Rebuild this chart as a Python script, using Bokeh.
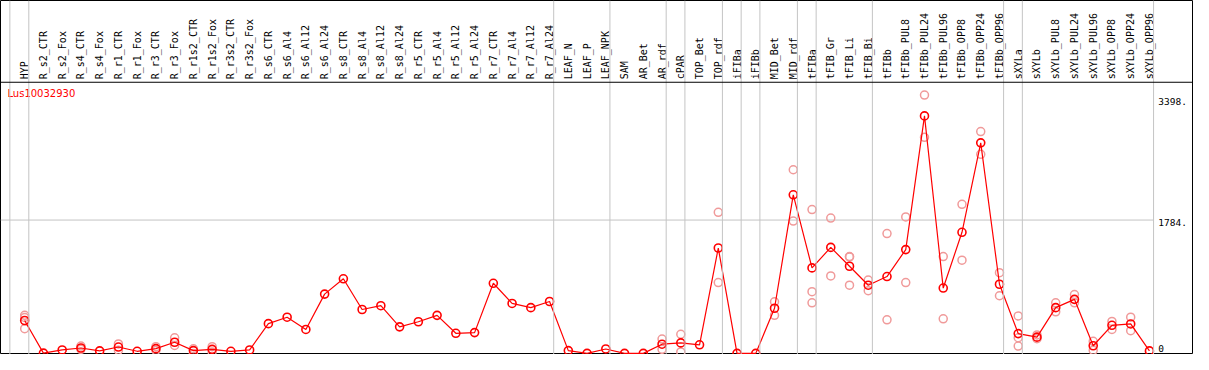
from math import pi
from bokeh.plotting import figure
from bokeh.models import Range1d, Span
from bokeh.core.properties import value
from bokeh.embed import file_html
from bokeh.resources import INLINE

series_name = "Lus10032930"

categories = [
    "HYP", "R_s2_CTR", "R_s2_Fox", "R_s4_CTR", "R_s4_Fox", "R_r1_CTR", "R_r1_Fox",
    "R_r3_CTR", "R_r3_Fox", "R_r1s2_CTR", "R_r1s2_Fox", "R_r3s2_CTR", "R_r3s2_Fox",
    "R_s6_CTR", "R_s6_Al4", "R_s6_Al12", "R_s6_Al24", "R_s8_CTR", "R_s8_Al4",
    "R_s8_Al12", "R_s8_Al24", "R_r5_CTR", "R_r5_Al4", "R_r5_Al12", "R_r5_Al24",
    "R_r7_CTR", "R_r7_Al4", "R_r7_Al12", "R_r7_Al24", "LEAF_N", "LEAF_P", "LEAF_NPK",
    "SAM", "AR_Bet", "AR_rdf", "cPAR", "TOP_Bet", "TOP_rdf", "iFIBa", "iFIBb",
    "MID_Bet", "MID_rdf", "tFIBa", "tFIB_Gr", "tFIB_Li", "tFIB_Bi", "tFIBb",
    "tFIBb_PUL8", "tFIBb_PUL24", "tFIBb_PUL96", "tFIBb_OPP8", "tFIBb_OPP24",
    "tFIBb_OPP96", "sXYLa", "sXYLb", "sXYLb_PUL8", "sXYLb_PUL24", "sXYLb_PUL96",
    "sXYLb_OPP8", "sXYLb_OPP24", "sXYLb_OPP96",
]

means = [
    440, 3, 46, 72, 33, 85, 28, 63, 149, 37, 54, 28, 46,
    398, 484, 320, 793, 998, 587, 638, 355, 423, 509, 269, 278,
    938, 668, 612, 694, 37, 0, 59, 0, 0, 123, 140, 115, 1410, 0, 0,
    604, 2122, 1144, 1418, 1166, 912, 1028, 1389, 3178, 874, 1620, 2817,
    925, 265, 217, 612, 723, 102, 376, 394, 33,
]

replicates = [
    [510, 480, 330], [], [], [98, 55], [], [127, 41], [], [89, 37], [209, 106],
    [62, 0], [89, 20], [], [], [], [], [], [], [], [], [], [], [], [], [], [],
    [], [], [], [], [], [], [], [], [], [192, 54], [256, 20], [], [1887, 947],
    [], [], [690, 510], [2457, 1771], [1925, 826, 677], [1810, 1037],
    [1295, 912, 1290], [981, 839], [1603, 449], [1826, 947], [3457, 2891],
    [1295, 462], [1994, 1247], [2968, 2663], [1080, 771], [501, 209, 98],
    [247, 196], [677, 556], [788, 677], [162, 41], [427, 320], [484, 304], [],
]

# number of consecutive categories in each sample group (separated by grey lines)
group_sizes = [1, 28, 3, 3, 1, 2, 1, 1, 2, 1, 3, 7, 1, 7]

y_ticks = [0, 1784, 3398]
y_tick_labels = ["0", "1784.", "3398."]
grid_values = [1784]

# ---------------- layout constants ----------------
X_LO, X_HI = -1.29, 62.35
Y_LO, Y_HI = -15, 4722
HEADER_Y = 3628
SEP_OFF = 0.22
START_SEP = -0.79
MONO = value("DejaVu Sans Mono")

p = figure(width=1193, height=354, output_backend="svg", toolbar_location=None,
           x_range=Range1d(X_LO, X_HI), y_range=Range1d(Y_LO, Y_HI),
           x_axis_location=None, y_axis_location=None, min_border=0)
p.xgrid.visible = False
p.ygrid.visible = False
p.outline_line_color = "black"
p.outline_line_width = 1
p.background_fill_color = "white"
p.border_fill_color = "white"

xs = list(range(len(categories)))

# group separators
sep_positions = [START_SEP]
acc = 0
for g in group_sizes:
    acc += g
    sep_positions.append(acc - 1 + SEP_OFF)
for sx in sep_positions:
    p.add_layout(Span(location=sx, dimension="height", line_color="#c4c4c4", line_width=1))

# horizontal grid line(s)
last_sep = sep_positions[-1]
p.segment(x0=[X_LO] * len(grid_values), y0=grid_values,
          x1=[last_sep] * len(grid_values), y1=grid_values,
          line_color="#c4c4c4", line_width=1)

# header separator
p.add_layout(Span(location=HEADER_Y, dimension="width", line_color="black", line_width=1))

# header labels
p.text(x=xs, y=[HEADER_Y] * len(xs), text=categories, angle=pi / 2,
       text_align="left", text_baseline="middle", y_offset=-3,
       text_font=MONO, text_font_size=value("10px"), text_color="black")

# y tick labels on the right
lab_x = last_sep + 0.25
top_ticks = [(v, t) for v, t in zip(y_ticks, y_tick_labels) if v != min(y_ticks)]
low_ticks = [(v, t) for v, t in zip(y_ticks, y_tick_labels) if v == min(y_ticks)]
p.text(x=[lab_x] * len(top_ticks), y=[v for v, _ in top_ticks], text=[t for _, t in top_ticks],
       text_align="left", text_baseline="top", y_offset=-1,
       text_font=MONO, text_font_size=value("9.5px"), text_color="black")
p.text(x=[lab_x] * len(low_ticks), y=[v for v, _ in low_ticks], text=[t for _, t in low_ticks],
       text_align="left", text_baseline="bottom", y_offset=-1,
       text_font=MONO, text_font_size=value("9.5px"), text_color="black")

# series name
p.text(x=[X_LO + 0.37], y=[3474], text=[series_name], text_align="left",
       text_baseline="middle", text_font=value("DejaVu Sans"),
       text_font_size=value("10px"), text_color="red")

# replicate points
rx, ry = [], []
for i, reps in enumerate(replicates):
    for v in reps:
        rx.append(i)
        ry.append(v)
p.scatter(rx, ry, marker="circle", size=8, fill_color=None,
          line_color="#f09a9a", line_width=1.5)

# mean line and points
p.line(xs, means, line_color="red", line_width=1.2)
p.scatter(xs, means, marker="circle", size=8, fill_color=None,
          line_color="red", line_width=1.6)

open("out.html", "w").write(file_html(p, INLINE))
